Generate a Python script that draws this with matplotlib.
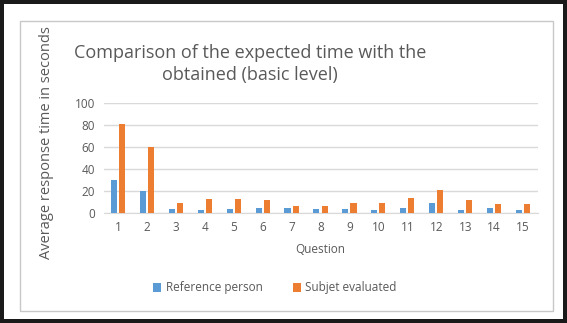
import numpy as np
import matplotlib
matplotlib.use("Agg")
from matplotlib import pyplot as plt
from matplotlib.patches import Rectangle

questions = [str(i) for i in range(1, 16)]
reference = [30, 20, 4, 3, 4, 5, 5, 3.5, 4, 3, 5, 9.5, 3, 5, 3]
subject = [81, 60, 9.5, 13, 13, 11.5, 6.5, 6, 9, 9.5, 14, 21, 11.5, 8, 8]

plt.rcParams['font.family'] = ['Open Sans', 'DejaVu Sans']
txt = '#595959'

fig = plt.figure(figsize=(5.67, 3.23), dpi=100)
fig.patch.set_facecolor('#1a1a1a')

# white page inside black frame
fig.patches.append(Rectangle((4/567, 4/323), 559/567, 315/323, transform=fig.transFigure,
                             facecolor='white', edgecolor='none', zorder=-2))
# light chart border
fig.patches.append(Rectangle((20/567, 12/323), 533/567, 290/323, transform=fig.transFigure,
                             facecolor='none', edgecolor='#c8c8c8', lw=1, zorder=-1))

ax = fig.add_axes([103.5/567, 1 - 213/323, 434/567, 110/323])
ax.set_zorder(2)
x = np.arange(len(questions))
w = 0.21
ax.bar(x - w/2 - 0.035, reference, w, color='#5B9BD5', label='Reference person', zorder=3)
ax.bar(x + w/2 + 0.035, subject, w, color='#ED7D31', label='Subjet evaluated', zorder=3)

ax.set_ylim(0, 100)
ax.set_xlim(-0.5, len(questions) - 0.5)
ax.set_yticks([0, 20, 40, 60, 80, 100])
ax.set_xticks(x)
ax.set_xticklabels(questions)
ax.grid(axis='y', color='#d9d9d9', lw=1, zorder=0)
for s in ['top', 'right', 'left']:
    ax.spines[s].set_visible(False)
ax.spines['bottom'].set_color('#d9d9d9')
ax.tick_params(length=0, colors=txt, labelsize=8.5, pad=6)
ax.set_xlabel('Question', color=txt, fontsize=8.5, labelpad=6)
ax.set_facecolor('none')

fig.text(47/567, 1 - 143/323, 'Average response time in seconds', rotation=90,
         ha='center', va='center', color=txt, fontsize=10.5)
fig.text(250/567, 1 - 64/323, 'Comparison of the expected time with the\nobtained (basic level)',
         ha='center', va='center', color=txt, fontsize=13, linespacing=1.35)

ax.legend(loc='center', bbox_to_anchor=(275/567, 1 - 288/323), bbox_transform=fig.transFigure,
          ncol=2, frameon=False, fontsize=8.5, labelcolor=txt, handlelength=0.7, handleheight=0.7,
          columnspacing=2.5, handletextpad=0.4)

fig.savefig('out.png', dpi=100, facecolor=fig.get_facecolor())
